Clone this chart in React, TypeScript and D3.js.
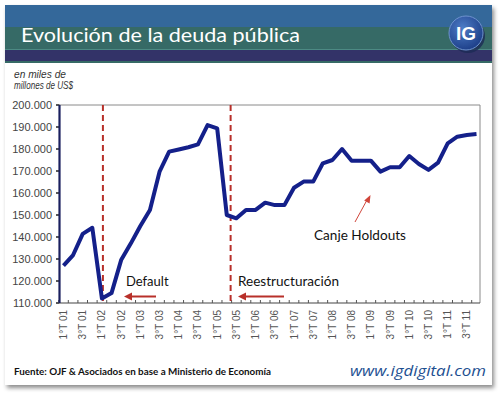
import React from 'react';
import * as d3 from 'd3';

// quarterly public debt, thousands of millions of US$
const years = ['01', '02', '03', '04', '05', '06', '07', '08', '09', '10', '11'];
const quarterNames = ['1°T', '2°T', '3°T', '4°T'];
const quarters = years.flatMap((y) => quarterNames.map((q) => `${q} ${y}`));

const debt = [
  127, 131.8, 141.4, 144.2, 112.1, 114.5, 129.5, 137, 145, 152.3, 169.7, 178.8,
  179.8, 180.8, 182.1, 190.9, 189.4, 150, 148.5, 152.3, 152.3, 155.6, 154.5, 154.5,
  162.4, 165.2, 165.2, 173.5, 175, 180, 174.7, 174.7, 174.7, 169.7, 171.7, 171.7,
  176.8, 173.2, 170.5, 173.8, 182.6, 185.6, 186.4, 186.8,
];

const yTicks = [110, 120, 130, 140, 150, 160, 170, 180, 190, 200];
const fmt = (v: number) => `${v}.000`;

const W = 500;
const H = 394;
const plot = { left: 59.5, right: 480, top: 105, bottom: 303 };

export default function App() {
  const x = d3.scalePoint<string>().domain(quarters).range([63.5, 476.5]);
  const y = d3.scaleLinear().domain([110, 200]).range([plot.bottom, plot.top]);
  const step = x.step();

  const line = d3
    .line<number>()
    .x((_, i) => x(quarters[i])!)
    .y((d) => y(d));

  const defaultX = x('1°T 02')! + 1;
  const restructX = x('2°T 05')! + step * 0.4;
  const red = '#b8302a';

  return (
    <svg
      width={W}
      height={H}
      style={{ position: 'fixed', left: 0, top: 0 }}
      fontFamily="Lato, 'Liberation Sans', sans-serif"
    >
      <defs>
        <filter id="shadow" x="-5%" y="-5%" width="115%" height="115%">
          <feDropShadow dx="2" dy="3" stdDeviation="2" floodColor="#000" floodOpacity="0.45" />
        </filter>
        <radialGradient id="logo" cx="0.4" cy="0.35" r="0.7">
          <stop offset="0%" stopColor="#4d7cc6" />
          <stop offset="100%" stopColor="#1b3c86" />
        </radialGradient>
      </defs>

      <rect width={W} height={H} fill="#fff" />
      {/* card */}
      <rect x={5} y={5} width={487} height={380} fill="#fff" filter="url(#shadow)" />

      {/* title bar */}
      <rect x={5} y={5} width={487} height={22} fill="#34689a" />
      <rect x={5} y={27} width={487} height={23} fill="#366a66" />
      <rect x={5} y={49} width={487} height={1} fill="#4d8a84" />
      <rect x={5} y={50} width={487} height={11} fill="#333368" />
      <rect x={5} y={61} width={487} height={2} fill="#366a66" />
      <text x={21} y={42} fill="#fff" fontSize={20} textLength={279} lengthAdjust="spacingAndGlyphs">
        Evolución de la deuda pública
      </text>
      <circle cx={468} cy={36} r={17} fill="#1c2a55" opacity={0.8} />
      <circle cx={466} cy={33} r={17} fill="url(#logo)" stroke="#6f93cf" strokeWidth={1} />
      <text
        x={466}
        y={40}
        fill="#fff"
        fontSize={19}
        fontWeight="bold"
        textAnchor="middle"
        fontFamily="'Liberation Sans', Arial, sans-serif"
      >
        IG
      </text>

      {/* unit note */}
      <g fill="#333" fontStyle="italic" fontSize={10} fontFamily="'Liberation Sans Narrow', 'Liberation Sans', sans-serif">
        <text x={14} y={78} textLength={52} lengthAdjust="spacingAndGlyphs">en miles de</text>
        <text x={14} y={89} textLength={59} lengthAdjust="spacingAndGlyphs">millones de US$</text>
      </g>

      {/* frame */}
      <line x1={plot.left} x2={plot.right} y1={plot.top} y2={plot.top} stroke="#8a8a8a" />
      <line x1={plot.right} x2={plot.right} y1={plot.top} y2={plot.bottom} stroke="#8a8a8a" />

      {/* y axis */}
      <g fontFamily="'Liberation Sans', Arial, sans-serif" fontSize={11} fill="#444">
        {yTicks.map((t) => (
          <g key={t}>
            <line x1={plot.left - 3.5} x2={plot.left} y1={y(t)} y2={y(t)} stroke="#222" strokeWidth={1.5} />
            <text x={52} y={y(t)} dy="0.36em" textAnchor="end">
              {fmt(t)}
            </text>
          </g>
        ))}
      </g>

      {/* x axis */}
      <line x1={plot.left} x2={plot.right} y1={plot.bottom} y2={plot.bottom} stroke="#444" strokeWidth={1.2} />
      {quarters.map((q) => (
        <line
          key={`t-${q}`}
          x1={x(q)! - step / 2}
          x2={x(q)! - step / 2}
          y1={plot.bottom}
          y2={plot.bottom - 3}
          stroke="#555"
        />
      ))}
      <g fontFamily="'Liberation Sans', Arial, sans-serif" fontSize={10} fill="#555">
        {quarters.map((q, i) =>
          i % 2 === 0 ? (
            <text
              key={`l-${q}`}
              transform={`translate(${x(q)},${plot.bottom + 7}) rotate(-90)`}
              textAnchor="end"
              dy="0.35em"
            >
              {q}
            </text>
          ) : null
        )}
      </g>

      {/* event markers */}
      <g stroke={red} strokeWidth={2} strokeDasharray="6 4">
        <line x1={defaultX} x2={defaultX} y1={plot.top} y2={plot.bottom} />
        <line x1={restructX} x2={restructX} y1={plot.top} y2={plot.bottom} />
      </g>

      {/* debt line */}
      <path d={line(debt)!} fill="none" stroke="#14208a" strokeWidth={4} strokeLinejoin="round" />
      <line x1={plot.left} x2={plot.left} y1={plot.top} y2={plot.bottom} stroke="#1a1f5e" strokeWidth={2.2} />

      {/* annotations */}
      <g fill="#111" fontSize={13}>
        <text x={126} y={286}>Default</text>
        <text x={238} y={286} textLength={101} lengthAdjust="spacingAndGlyphs">Reestructuración</text>
        <text x={314} y={240} textLength={92} lengthAdjust="spacingAndGlyphs">Canje Holdouts</text>
      </g>
      <g stroke={red} fill={red}>
        <line x1={131} x2={156} y1={296.5} y2={296.5} strokeWidth={2} />
        <path d="M124,296.5 L132,292.5 L132,300.5 Z" stroke="none" />
        <line x1={245} x2={284} y1={296.5} y2={296.5} strokeWidth={2} />
        <path d="M238,296.5 L246,292.5 L246,300.5 Z" stroke="none" />
        <line x1={355} x2={367} y1={222} y2={200} strokeWidth={1} stroke="#d0453a" />
        <path d="M370.5,195 L369.6,203.5 L364.2,200.6 Z" stroke="none" fill="#d0453a" />
      </g>

      {/* footer */}
      <text x={14} y={375} fontSize={9.5} fontWeight="bold" fill="#111" textLength={257} lengthAdjust="spacingAndGlyphs">
        Fuente: OJF &amp; Asociados en base a Ministerio de Economía
      </text>
      <text
        x={350}
        y={376}
        fontSize={15}
        fontStyle="italic"
        fill="#1d4f91"
        fontFamily="'Open Sans', sans-serif"
        textLength={136}
        lengthAdjust="spacingAndGlyphs"
      >
        www.igdigital.com
      </text>
    </svg>
  );
}
